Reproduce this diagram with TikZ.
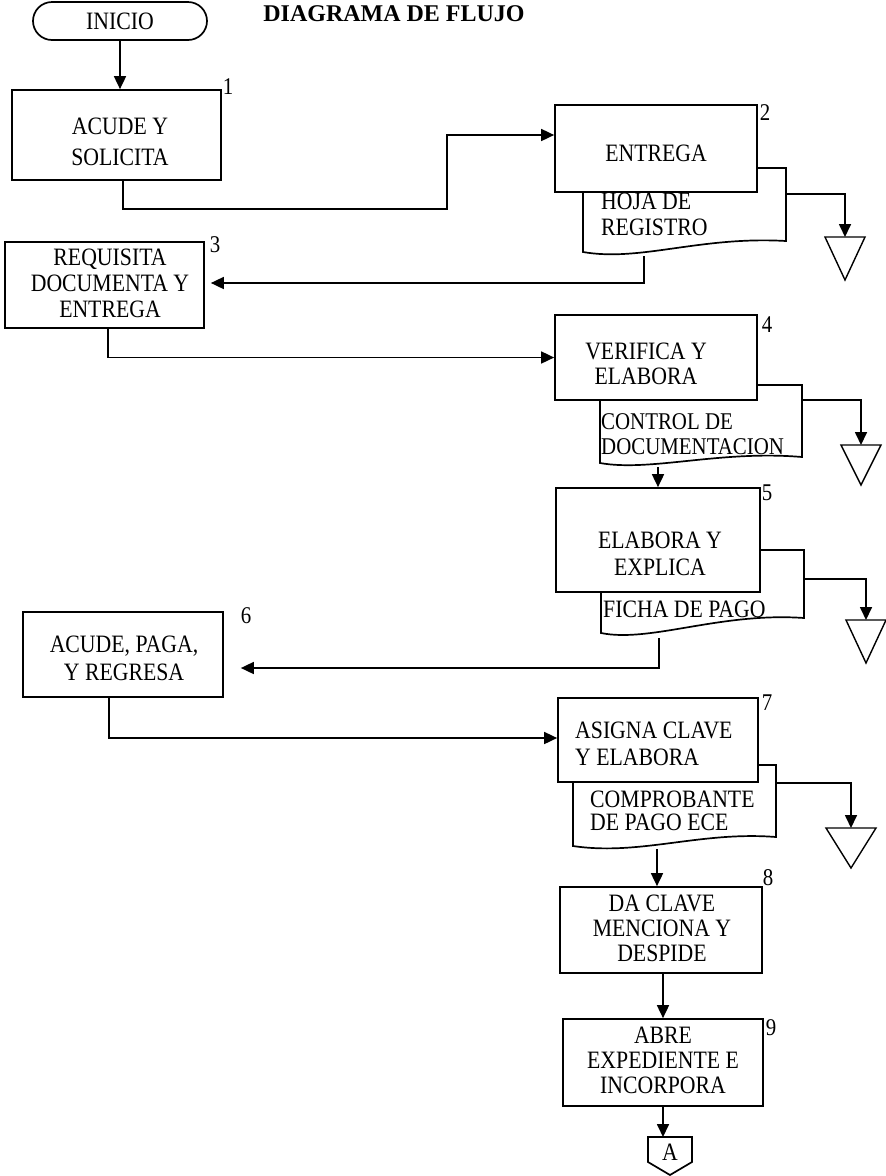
\documentclass[tikz,border=0pt]{standalone}
\usepackage{fontspec}
\setmainfont{Liberation Serif}[FakeStretch=0.87]
\newfontfamily\titlef{Liberation Serif}
\usetikzlibrary{arrows.meta,shapes.misc,calc}
\begin{document}
\begin{tikzpicture}[x=1pt,y=-1pt,
 con/.style={line width=1.7pt},
 box/.style={draw, fill=white, line width=1.7pt, inner sep=0pt},
 doc/.style={draw, fill=white, line width=1.7pt},
 arr/.style={line width=1.7pt, -{Triangle[length=13pt,width=12pt]}},
 sink/.style={draw, fill=white, line width=1.4pt},
 txt/.style={inner sep=0pt, align=center, font=\fontsize{25}{#1}\selectfont},
 txt/.default=26,
 dtxt/.style={inner sep=0pt, align=left, anchor=west, font=\fontsize{25}{#1}\selectfont},
 dtxt/.default=26,
 num/.style={inner sep=0pt, font=\fontsize{24}{24}\selectfont},
]
\useasboundingbox (0,0) rectangle (886,1176);

% title
\node[inner sep=0pt, font=\titlef\bfseries\fontsize{24}{24}\selectfont] (title) at (394,14) {DIAGRAMA DE FLUJO};

% start
\node[draw, rounded rectangle, line width=1.7pt, minimum width=174pt, minimum height=38pt, txt] (ini) at (120,21) {INICIO};

% step 1
\node[box, minimum width=209pt, minimum height=90pt] (b1) at (116.5,135) {};
\node[txt=31] (t1) at (120,141.5) {ACUDE Y\\SOLICITA};
\node[num] (n1) at (228,87) {1};
\draw[arr] (ini.south) -- (ini.south |- b1.north);

% step 2 + document
\draw[doc] (583,168) -- (786,168) -- (786,241) .. controls (700,236) and (640,262) .. (583,252) -- cycle;
\node[box, minimum width=202pt, minimum height=87pt] (b2) at (656,148.5) {};
\node[txt] (t2) at (656,153) {ENTREGA};
\node[num] (n2) at (765,113) {2};
\node[dtxt] (d2) at (601,214) {HOJA DE\\REGISTRO};
\coordinate (k12) at (447,209);
\draw[arr] ([xshift=6.5pt]b1.south) |- (k12) |- ([yshift=13.5pt]b2.west);
\coordinate (d2r) at (786,194);
\coordinate (s2) at (845,237);
\draw[sink] (s2) -- ++(20,0) -- ++(-20,43) -- ++(-20,-43) -- cycle;
\draw[arr] (d2r) -| (s2);

% step 3
\node[box, minimum width=199pt, minimum height=86pt] (b3) at (104.5,285) {};
\node[txt=26] (t3) at (110,283) {REQUISITA\\DOCUMENTA Y\\ENTREGA};
\node[num] (n3) at (215,245) {3};
\coordinate (d2b) at (644,256);
\draw[arr] (d2b) |- ([xshift=6pt,yshift=2pt]b3.east);

% step 4 + document
\draw[doc] (600,385) -- (802,385) -- (802,457) .. controls (720,450) and (650,472) .. (600,463) -- cycle;
\node[box, minimum width=202pt, minimum height=85pt] (b4) at (656,357.5) {};
\node[txt=25] (t4) at (646,364) {VERIFICA Y\\ELABORA};
\node[num] (n4) at (767,325) {4};
\node[dtxt=25, font=\fontsize{24}{25}\selectfont] (d4) at (601,434) {CONTROL DE\\DOCUMENTACION};
\draw[arr] ([xshift=3.5pt]b3.south) |- (b4.west);
\coordinate (d4r) at (802,400);
\coordinate (s4) at (861,445);
\draw[sink] (s4) -- ++(20,0) -- ++(-20,40) -- ++(-20,-40) -- cycle;
\draw[arr] (d4r) -| (s4);

% step 5 + document
\draw[doc] (601,550) -- (804,550) -- (804,618) .. controls (720,612) and (650,643) .. (601,633) -- cycle;
\node[box, minimum width=204pt, minimum height=104pt] (b5) at (658,540) {};
\node[txt=27] (t5) at (660,553.5) {ELABORA Y\\EXPLICA};
\node[num] (n5) at (767,493) {5};
\node[dtxt] (d5) at (603,609) {FICHA DE PAGO};
\coordinate (d4b) at (658,467);
\draw[arr] (d4b) -- (b5.north);
\coordinate (d5r) at (804,579);
\coordinate (s5) at (866,620);
\draw[sink] (s5) -- ++(20,0) -- ++(-20,43) -- ++(-20,-43) -- cycle;
\draw[arr] (d5r) -| (s5);

% step 6
\node[box, minimum width=200pt, minimum height=85pt] (b6) at (123,654.5) {};
\node[txt=28] (t6) at (124,658) {ACUDE, PAGA,\\Y REGRESA};
\node[num] (n6) at (246,616) {6};
\coordinate (d5b) at (659,638);
\draw[arr] (d5b) |- ([xshift=17pt,yshift=-13.5pt]b6.east);

% step 7 + document
\draw[doc] (573,765) -- (776,765) -- (776,837) .. controls (700,831) and (640,856) .. (573,846) -- cycle;
\node[box, minimum width=200pt, minimum height=84pt] (b7) at (658,740) {};
\node[dtxt=27] (t7) at (575,743.5) {ASIGNA CLAVE\\Y ELABORA};
\node[num] (n7) at (767,703) {7};
\node[dtxt=23] (d7) at (590,811) {COMPROBANTE\\DE PAGO ECE};
\draw[arr] ([xshift=-14pt]b6.south) |- ([yshift=2pt]b7.west);
\coordinate (d7r) at (776,783);
\coordinate (s7) at (851,828);
\draw[sink] (s7) -- ++(25,0) -- ++(-25,40) -- ++(-25,-40) -- cycle;
\draw[arr] (d7r) -| (s7);

% step 8
\node[box, minimum width=202pt, minimum height=86pt] (b8) at (661,930) {};
\node[txt=25] (t8) at (662,928) {DA CLAVE\\MENCIONA Y\\DESPIDE};
\node[num] (n8) at (768,878) {8};
\coordinate (d7b) at (657,849);
\draw[arr] (d7b) -- (d7b |- b8.north);

% step 9
\node[box, minimum width=200pt, minimum height=87pt] (b9) at (663,1062.5) {};
\node[txt=25] (t9) at (663,1060) {ABRE\\EXPEDIENTE E\\INCORPORA};
\node[num] (n9) at (771,1028) {9};
\draw[arr] ([xshift=2pt]b8.south) -- (b9.north);

% off-page connector
\coordinate (cA) at (670,1137);
\draw[con, fill=white] (648,1137) -- (692,1137) -- (692,1162) -- (670,1175) -- (648,1162) -- cycle;
\node[txt] (tA) at (670,1152) {A};
\draw[arr] (b9.south) -- (b9.south |- cA);
\end{tikzpicture}
\end{document}
